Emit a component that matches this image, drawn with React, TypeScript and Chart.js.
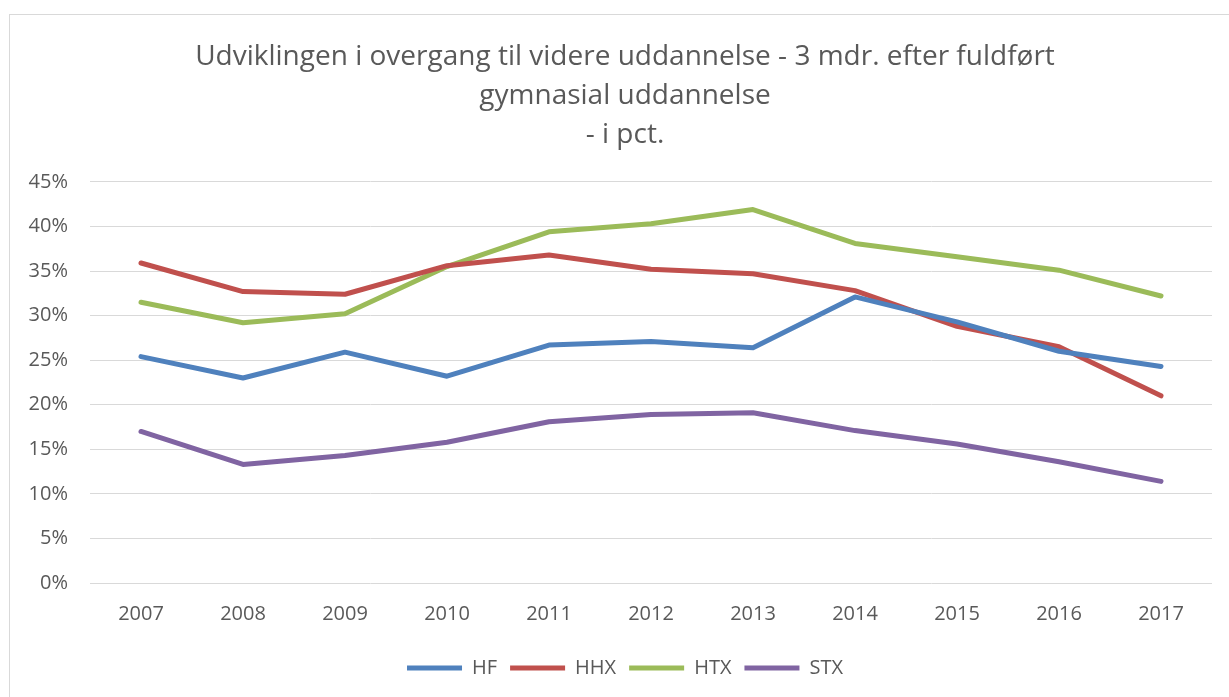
import React, { useEffect, useRef } from "react";
import { Chart, registerables } from "chart.js";

Chart.register(...registerables);

const years = ["2007", "2008", "2009", "2010", "2011", "2012", "2013", "2014", "2015", "2016", "2017"];
const hf = [25.4, 23.0, 25.9, 23.2, 26.7, 27.1, 26.4, 32.1, 29.3, 26.0, 24.3];
const hhx = [35.9, 32.7, 32.4, 35.6, 36.8, 35.2, 34.7, 32.8, 28.8, 26.5, 21.0];
const htx = [31.5, 29.2, 30.2, 35.5, 39.4, 40.3, 41.9, 38.1, 36.6, 35.1, 32.2];
const stx = [17.0, 13.3, 14.3, 15.8, 18.1, 18.9, 19.1, 17.1, 15.6, 13.6, 11.4];
const titleLines = [
  "Udviklingen i overgang til videre uddannelse - 3 mdr. efter fuldført",
  "gymnasial uddannelse",
  "- i pct.",
];

const FONT = "'Open Sans', 'DejaVu Sans', sans-serif";
const TEXT = "#595959";

export default function App() {
  const ref = useRef<HTMLCanvasElement | null>(null);
  useEffect(() => {
    if (!ref.current) return;
    const mk = (label: string, data: number[], color: string) => ({
      label,
      data,
      borderColor: color,
      backgroundColor: color,
      borderWidth: 5,
      borderCapStyle: "round" as const,
      borderJoinStyle: "round" as const,
      pointRadius: 0,
      pointHoverRadius: 0,
      tension: 0,
      fill: false,
      yAxisID: "y",
    });
    const chart = new Chart(ref.current, {
      type: "line",
      data: {
        labels: years,
        datasets: [
          mk("HF", hf, "#4F81BD"),
          mk("HHX", hhx, "#C0504D"),
          mk("HTX", htx, "#9BBB59"),
          mk("STX", stx, "#8064A2"),
        ],
      },
      options: {
        animation: false,
        responsive: false,
        maintainAspectRatio: false,
        layout: { padding: { left: 0, right: 0, top: 0, bottom: 10 } },
        plugins: {
          title: {
            display: true,
            text: titleLines,
            color: TEXT,
            font: { family: FONT, size: 28, weight: "normal", lineHeight: 1.38 },
            padding: { top: 23, bottom: 28 },
          },
          legend: {
            position: "bottom",
            labels: {
              usePointStyle: true,
              pointStyle: "line",
              pointStyleWidth: 55,
              color: TEXT,
              font: { family: FONT, size: 20 },
              padding: 13,
            },
          },
          tooltip: { enabled: false },
        },
        scales: {
          x: {
            grid: { display: false, drawTicks: false },
            border: { display: false },
            offset: true,
            ticks: { color: TEXT, font: { family: FONT, size: 20 }, padding: 19, maxRotation: 0 },
          },
          y: {
            position: "left",
            min: 0,
            max: 45,
            grid: { color: "#d9d9d9", lineWidth: 1, drawTicks: false },
            border: { display: false },
            ticks: {
              stepSize: 5,
              color: TEXT,
              font: { family: FONT, size: 20 },
              padding: 22,
              callback: (v: any) => v + "%",
            },
            afterFit: (s: any) => {
              s.width = 80;
            },
          },
          yRight: {
            position: "right",
            min: 0,
            max: 45,
            grid: { display: false, drawTicks: false },
            border: { display: false },
            ticks: { display: false },
            afterFit: (s: any) => {
              s.width = 28;
            },
          },
        },
      },
    });
    return () => chart.destroy();
  }, []);
  return (
    <div
      style={{
        position: "absolute",
        left: 9,
        top: 14,
        width: 1240,
        height: 700,
        border: "1px solid #d9d9d9",
        background: "#fff",
        boxSizing: "border-box",
      }}
    >
      <canvas ref={ref} width={1230} height={683} style={{ display: "block", width: 1230, height: 683 }} />
    </div>
  );
}
